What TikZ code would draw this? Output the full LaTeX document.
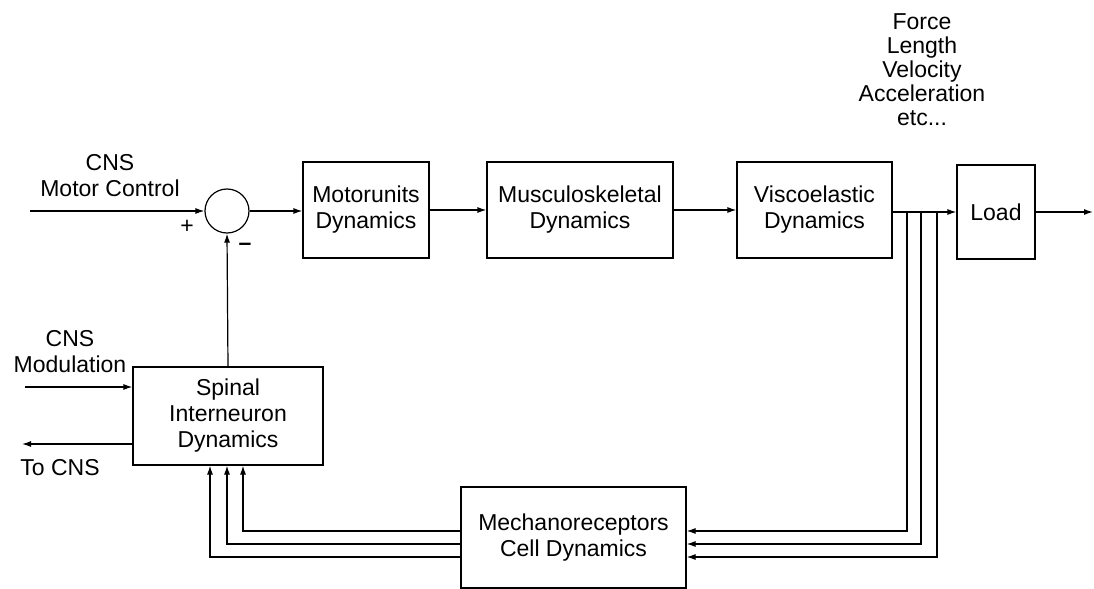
\documentclass[tikz,border=0pt]{standalone}
\usepackage{fontspec}
\setmainfont{Liberation Sans}
\usetikzlibrary{arrows.meta}

\begin{document}
\begin{tikzpicture}[x=0.5pt,y=-0.5pt,
  font=\fontsize{11.5}{13}\selectfont, line width=0.6pt,
  blk/.style={draw, rectangle, align=center, inner sep=0pt},
  sumpt/.style={draw, circle, minimum size=22pt, inner sep=0pt},
  sig/.style={-{Latex[length=4.5pt,width=3pt]}},
  lbl/.style={align=center, inner sep=0pt},
]
\useasboundingbox (0,0) rectangle (1094,589);
% ---- forward path ----
\node[sumpt] (sum) at (227,211){};
\node[blk, minimum width=63pt, minimum height=48pt] (motor) at (366,210){Motorunits\\Dynamics};
\node[blk, minimum width=93pt, minimum height=48pt] (musc) at (580,210){Musculoskeletal\\Dynamics};
\node[blk, minimum width=77.5pt, minimum height=48pt] (visc) at (814.5,210){Viscoelastic\\Dynamics};
\node[blk, minimum width=39pt, minimum height=47pt] (load) at (996,212){Load};
% ---- feedback blocks ----
\node[blk, minimum width=95pt, minimum height=49pt] (spinal) at (228,416){Spinal\\Interneuron\\Dynamics};
\node[blk, minimum width=112.5pt, minimum height=50.5pt] (mech) at (573.5,537.5){Mechanoreceptors\\Cell Dynamics};
% ---- helper coordinates ----
\coordinate (cmc) at (30,211);
\coordinate (out) at (1093,212);
\coordinate (cmod) at (25,387);
\coordinate (tocns) at (22,444);
\coordinate (t1) at (907,211);\coordinate (t2) at (921,211);\coordinate (t3) at (937,211);
\coordinate (r1) at (0,531);\coordinate (r2) at (0,544);\coordinate (r3) at (0,557);
\coordinate (l1) at (243,0);\coordinate (l2) at (227,0);\coordinate (l3) at (210,0);
% ---- connectors ----
\draw[sig] (cmc) -- (sum.west);
\draw[sig] (sum.east) -- (motor.west |- sum.east);
\draw[sig] (motor) -- (musc);
\draw[sig] (musc) -- (visc);
\draw[sig] (visc.east |- load.west) -- (load.west);
\draw[sig] (load.east) -- (out);
\draw[sig] (spinal.north) -- (sum.south);
\draw[sig] (cmod) -- (cmod -| spinal.west);
\draw[sig] (tocns -| spinal.west) -- (tocns);
% sensor taps to mechanoreceptors
\draw[sig] (t1) |- (mech.east |- r1);
\draw[sig] (t2) |- (mech.east |- r2);
\draw[sig] (t3) |- (mech.east |- r3);
% mechanoreceptors back to spinal
\draw[sig] (mech.west |- r1) -| (l1 |- spinal.south);
\draw[sig] (mech.west |- r2) -| (l2 |- spinal.south);
\draw[sig] (mech.west |- r3) -| (l3 |- spinal.south);
% ---- labels ----
\node[lbl] (cmclab) at (110,176){CNS\\Motor Control};
\node[lbl] (plus) at (187,227){+};
\node[lbl] (minus) at (245,247){\textbf{--}};
\node[lbl] (cmodlab) at (70,352){CNS\\Modulation};
\node[lbl] (tocnslab) at (60,468){To CNS};
\node[lbl, font=\fontsize{11.5}{12}\selectfont] (outlab) at (922,70){Force\\Length\\Velocity\\Acceleration\\etc...};
\end{tikzpicture}
\end{document}
